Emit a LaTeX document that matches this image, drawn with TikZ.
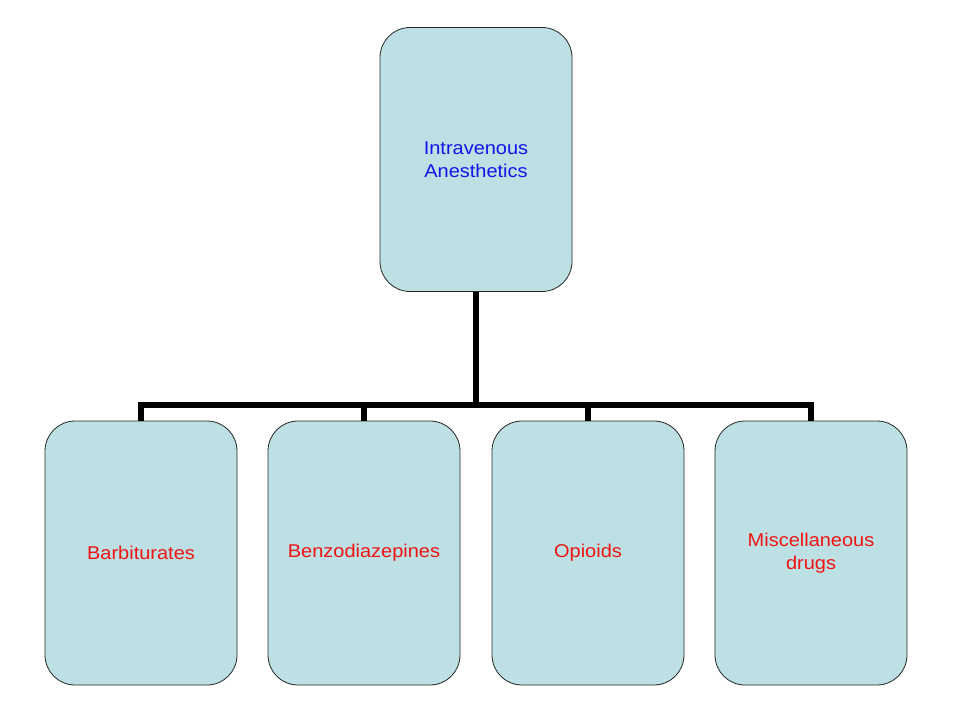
\documentclass[tikz,border=0pt]{standalone}
\usepackage{fontspec}
\setmainfont{Liberation Sans}
\definecolor{boxfill}{RGB}{188,224,227}
\definecolor{txtblue}{RGB}{20,20,235}
\definecolor{txtred}{RGB}{240,20,20}
\begin{document}
\begin{tikzpicture}[x=1pt,y=-1pt,
  card/.style={draw=black!85,line width=0.8pt,fill=boxfill,rounded corners=30pt,
    minimum width=192pt,minimum height=264pt,inner sep=0pt,align=center,
    font=\fontsize{18.5}{23.5}\selectfont},
  link/.style={line width=6pt}]
\useasboundingbox (0,0) rectangle (960,720);
\node[card,text=txtblue] (top) at (476,159.5) {\scalebox{1.08}[1]{Intravenous}\\\scalebox{1.08}[1]{Anesthetics}};
\node[card,text=txtred] (b1) at (141,553) {\scalebox{1.08}[1]{Barbiturates}};
\node[card,text=txtred] (b2) at (364,553) {\scalebox{1.08}[1]{Benzodiazepines}};
\node[card,text=txtred] (b3) at (588,553) {\scalebox{1.08}[1]{Opioids}};
\node[card,text=txtred] (b4) at (811,553) {\scalebox{1.08}[1]{Miscellaneous}\\\scalebox{1.08}[1]{drugs}};
\coordinate (bus) at (476,405);
\draw[link] (top.south) -- (bus);
\draw[link,line join=miter] (b1.north) -- (b1.north |- bus) -- (b4.north |- bus) -- (b4.north);
\draw[link] (b2.north) -- (b2.north |- bus);
\draw[link] (b3.north) -- (b3.north |- bus);
\end{tikzpicture}
\end{document}
